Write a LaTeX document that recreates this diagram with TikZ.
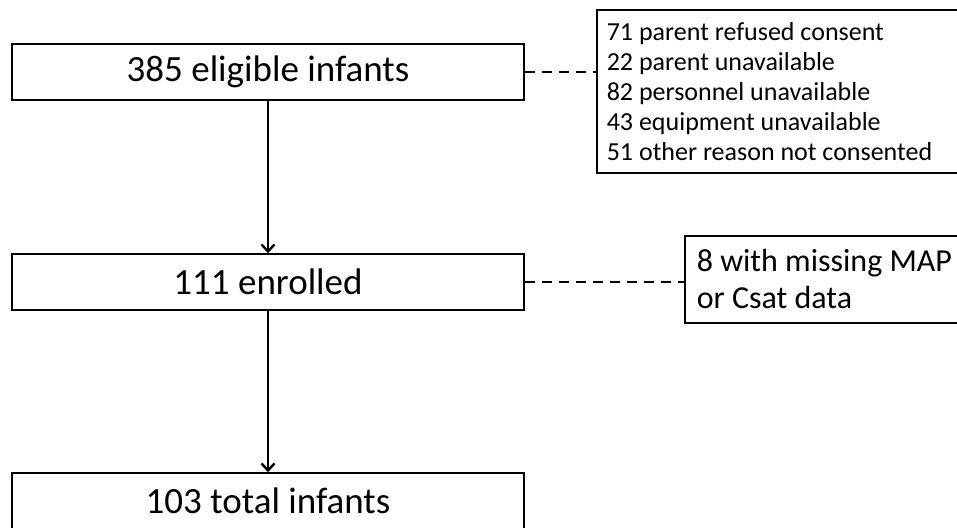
\documentclass[tikz,border=0pt]{standalone}
\usepackage{fontspec}
\setmainfont{Carlito}
\usetikzlibrary{arrows.meta}
\begin{document}
\begin{tikzpicture}[x=1pt,y=-1pt,
  mainbox/.style={draw=black,line width=1.6pt,minimum width=512pt,minimum height=56pt,inner sep=0pt,font=\fontsize{37}{40}\selectfont},
  sidebox/.style={draw=black,line width=1.6pt,anchor=north west,inner sep=0pt,align=left},
  flow/.style={line width=2.6pt,-{Straight Barb[length=7pt,width=13pt,line width=2.4pt]}},
  excl/.style={line width=2.6pt,dash pattern=on 10pt off 7pt}]
\useasboundingbox (0,0) rectangle (957,527);
\clip (0,0) rectangle (957,527);
\fill[white] (0,0) rectangle (957,527);
\node[mainbox] (elig) at (268,72) {385 eligible infants};
\node[mainbox] (enr) at (268,282) {111 enrolled};
\node[mainbox] (tot) at (268,501) {103 total infants};
\node[sidebox,minimum width=372pt,minimum height=163pt,text width=352pt,inner xsep=10pt,font=\fontsize{26}{30}\selectfont] (why) at (596,9)
  {\spaceskip=0pt\xspaceskip=0pt 71 parent refused consent\\22 parent unavailable\\82 personnel unavailable\\43 equipment unavailable\\51 other reason not consented};
\node[sidebox,minimum width=290pt,minimum height=87pt,text width=270pt,inner xsep=12pt,font=\fontsize{32}{37}\selectfont] (miss) at (684,235)
  {\spaceskip=0pt\xspaceskip=0pt 8 with missing MAP\\or Csat data};
\draw[flow] (elig.south) -- (enr.north);
\draw[flow] (enr.south) -- (tot.north);
\draw[excl] (elig.east) -- (elig.east -| why.west);
\draw[excl] (enr.east) -- (enr.east -| miss.west);
\end{tikzpicture}
\end{document}
